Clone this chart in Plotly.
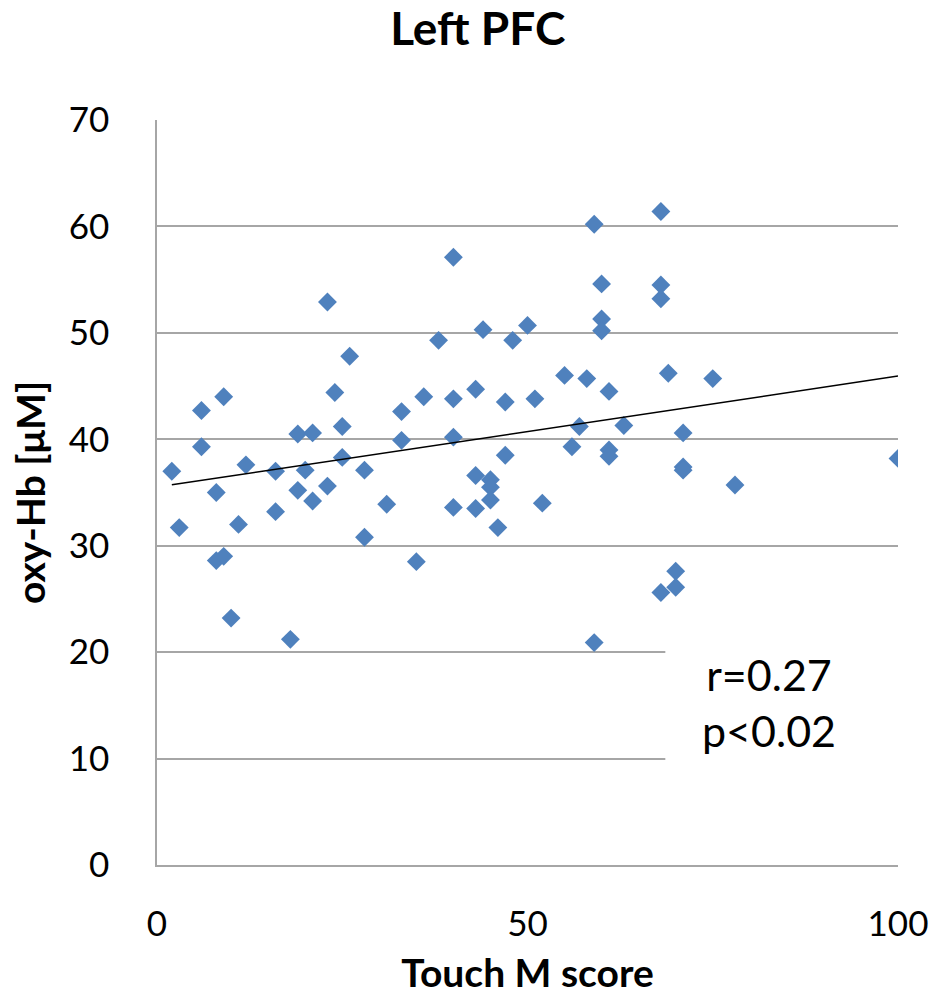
import numpy as np
import plotly.graph_objects as go

# Touch M score vs. oxy-Hb response, left prefrontal cortex
touch_m_score = [
    2, 3, 6, 6, 8, 8, 9, 9, 10, 11, 12, 16, 16, 18, 19, 19, 20, 21, 21, 23,
    23, 24, 25, 25, 26, 28, 28, 31, 33, 33, 35, 36, 38, 40, 40, 40, 40, 43, 43, 43,
    44, 45, 45, 45, 46, 47, 47, 48, 50, 51, 52, 55, 56, 57, 58, 59, 59, 60, 60, 60,
    61, 61, 61, 63, 68, 68, 68, 68, 69, 70, 70, 71, 71, 71, 75, 78, 100,
]
oxy_hb = [
    37.0, 31.7, 42.7, 39.3, 35.0, 28.6, 44.0, 29.0, 23.2, 32.0, 37.6, 37.0, 33.2, 21.2, 40.5, 35.2, 37.1, 40.6, 34.2, 52.9,
    35.6, 44.4, 41.2, 38.3, 47.8, 37.1, 30.8, 33.9, 42.6, 39.9, 28.5, 44.0, 49.3, 57.1, 43.8, 40.2, 33.6, 44.7, 36.6, 33.5,
    50.3, 36.2, 35.5, 34.3, 31.7, 43.5, 38.5, 49.3, 50.7, 43.8, 34.0, 46.0, 39.3, 41.2, 45.7, 60.2, 20.9, 54.6, 51.3, 50.2,
    44.5, 39.0, 38.4, 41.3, 61.4, 54.5, 53.2, 25.6, 46.2, 27.6, 26.1, 40.6, 37.4, 37.1, 45.7, 35.7, 38.2,
]
stats_text = "r=0.27<br>p<0.02"

x_ticks = [0, 50, 100]
y_ticks = [0, 10, 20, 30, 40, 50, 60, 70]

# Least-squares linear trend over the observed score range
slope, intercept = np.polyfit(touch_m_score, oxy_hb, 1)
fit_x = np.array([min(touch_m_score), max(touch_m_score)])
fit_y = slope * fit_x + intercept

FONT = "Lato"
GRID = "#A6A6A6"

fig = go.Figure()
fig.add_trace(go.Scatter(
    x=touch_m_score, y=oxy_hb, mode="markers",
    marker=dict(symbol="diamond", size=14.5, color="#4F81BD", line=dict(width=0)),
    showlegend=False, hoverinfo="x+y",
))
fig.add_trace(go.Scatter(
    x=fit_x, y=fit_y, mode="lines",
    line=dict(color="black", width=1.5),
    showlegend=False, hoverinfo="skip",
))

# White box behind the statistics text, hiding the gridlines there
fig.add_shape(type="rect", xref="x", yref="y", x0=68.6, x1=100, y0=5, y1=25,
              fillcolor="white", line=dict(width=0), layer="between")
fig.add_annotation(x=0.826, xref="paper", xanchor="center",
                   y=15.3, yref="y", yanchor="middle", text=stats_text,
                   showarrow=False, align="center",
                   font=dict(family=FONT, size=43, color="black"))

fig.update_layout(
    width=935, height=997, autosize=False,
    margin=dict(l=157, r=37, t=120, b=132),
    paper_bgcolor="white", plot_bgcolor="white",
    font=dict(family=FONT, color="black"),
    title=dict(text="<b>Left PFC</b>", x=0.511, xanchor="center",
               y=0.971, yanchor="middle", yref="container",
               font=dict(family=FONT, size=46, color="black")),
)
fig.update_xaxes(
    range=[0, 100], tickvals=x_ticks, showgrid=False, zeroline=False,
    showline=True, linecolor=GRID, linewidth=1.5, automargin=False,
    ticks="outside", ticklen=27, tickcolor="rgba(0,0,0,0)",
    tickfont=dict(family=FONT, size=35, color="black"),
    title=dict(text="<b>Touch M score</b>", standoff=18,
               font=dict(family=FONT, size=39, color="black")),
)
fig.update_yaxes(
    range=[0, 70], tickvals=y_ticks, showgrid=True, gridcolor=GRID, gridwidth=1.5,
    zeroline=False, showline=True, linecolor=GRID, linewidth=1.5, automargin=False,
    ticks="outside", ticklen=39, tickcolor="rgba(0,0,0,0)",
    tickfont=dict(family=FONT, size=35, color="black"),
    title=dict(text="<b>oxy-Hb [μM]</b>", standoff=11,
               font=dict(family=FONT, size=39, color="black")),
)

fig.write_html("out.html")
